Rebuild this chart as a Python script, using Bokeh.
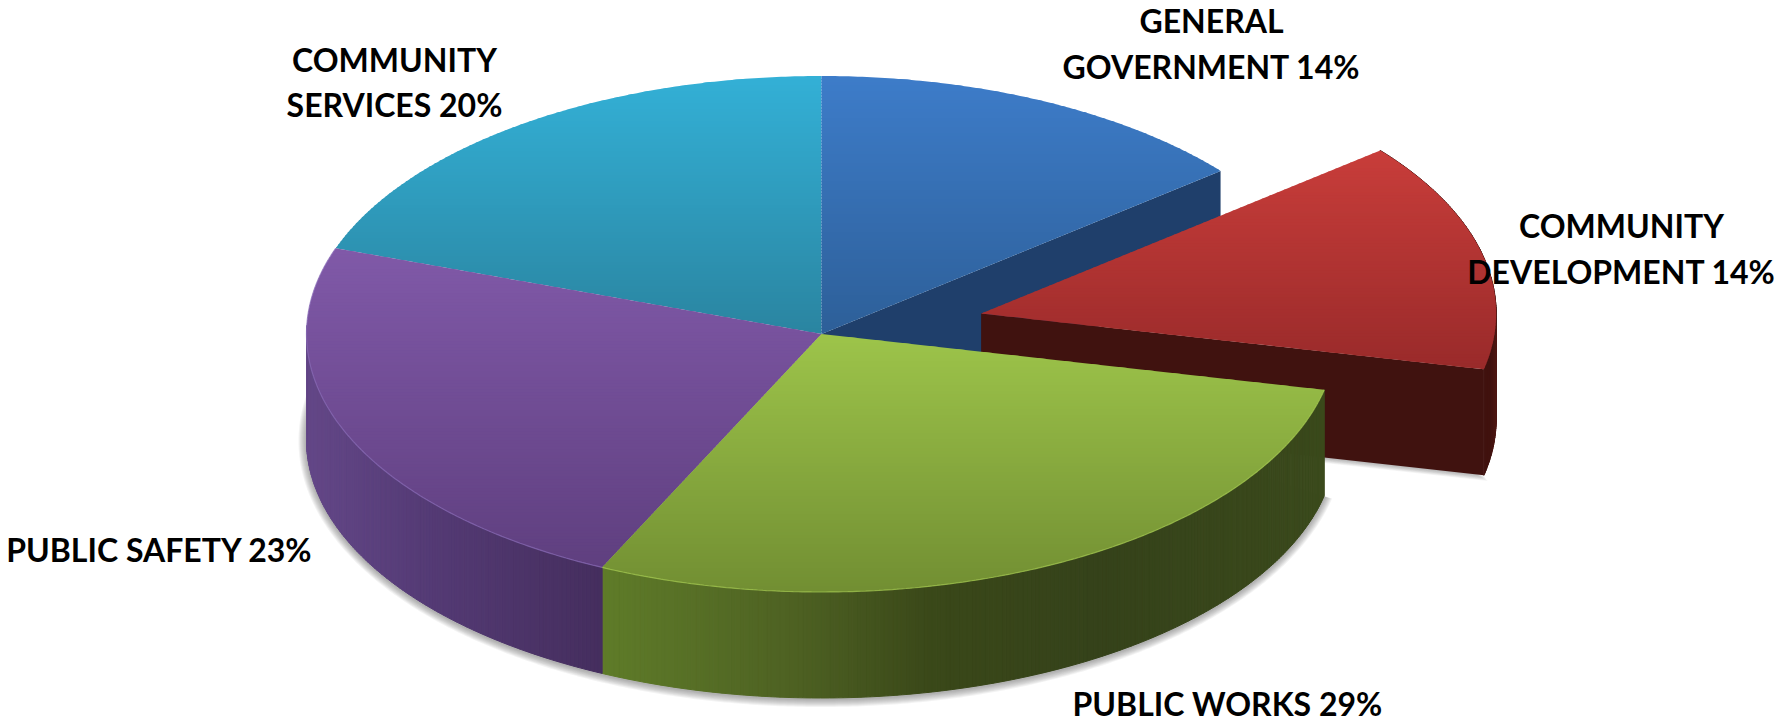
import math

from bokeh.core.properties import value
from bokeh.embed import file_html
from bokeh.models import Range1d
from bokeh.plotting import figure
from bokeh.resources import INLINE

# Budget shares, clockwise from twelve o'clock
categories = ["GENERAL GOVERNMENT", "COMMUNITY DEVELOPMENT", "PUBLIC WORKS", "PUBLIC SAFETY", "COMMUNITY SERVICES"]
shares = [14, 14, 29, 23, 20]
exploded = [False, True, False, False, False]

# Label text, one list of lines per slice; the share is appended to the last line
label_lines = [["GENERAL", "GOVERNMENT"], ["COMMUNITY", "DEVELOPMENT"], ["PUBLIC WORKS"], ["PUBLIC SAFETY"], ["COMMUNITY", "SERVICES"]]
label_x = [1211, 1621, 1227, 159, 394]
label_y = [[20, 66], [225, 271], [703], [549], [59, 104]]

# Top-face gradients (upper colour, lower colour)
top_colors = [("#3d7cc9", "#2d5f98"), ("#c83d3a", "#992a2a"), ("#9dc44a", "#718e32"), ("#8059a8", "#5f3f7f"), ("#33b0d6", "#2a84a0")]
# Rim gradients across x, as (x, colour) stops
rim_stops = {
    1: [(983, "#40120f"), (1489, "#40120f"), (1500, "#5c1d1a")],
    2: [(600, "#5f7c29"), (800, "#4d6022"), (930, "#3a4819"), (1100, "#35421a"), (1327, "#3b4a1c")],
    3: [(304, "#644888"), (420, "#553b76"), (600, "#452e5e")],
}
cut_colors = {0: "#1f3f6b", 1: "#40120f"}
rim_highlight = {2: "#a6cc52", 3: "#8a6cb8"}

# Projection of the disc; PERSPECTIVE_DEG is the foreshortening near the sides of the ellipse
CX, CY, RX, RY = 821, 333.5, 515, 258
DEPTH = 106
EXPLODE = 0.32
PERSPECTIVE_DEG = 1.9
BAND = 3


def hex_rgb(c):
    return tuple(int(c[i:i + 2], 16) for i in (1, 3, 5))


def mix(a, b, t):
    ra, rb = hex_rgb(a), hex_rgb(b)
    return "#%02x%02x%02x" % tuple(round(u + (v - u) * t) for u, v in zip(ra, rb))


def color_at(stops, x):
    if x <= stops[0][0]:
        return stops[0][1]
    for (x0, c0), (x1, c1) in zip(stops, stops[1:]):
        if x <= x1:
            return mix(c0, c1, (x - x0) / (x1 - x0))
    return stops[-1][1]


def rim_point(cx, cy, deg, grow=0.0):
    a = math.radians(deg)
    a += math.radians(PERSPECTIVE_DEG * math.sin(a) ** 6)
    return cx + (RX + grow) * math.sin(a), cy - (RY + grow) * math.cos(a)


def clip_band(poly, lo, hi):
    def clip(points, inside, cross):
        out = []
        for i, p in enumerate(points):
            q = points[(i + 1) % len(points)]
            if inside(p):
                out.append(p)
            if inside(p) != inside(q):
                t = (cross - p[1]) / (q[1] - p[1])
                out.append((p[0] + (q[0] - p[0]) * t, cross))
        return out

    poly = clip(poly, lambda p: p[1] >= lo, lo)
    return clip(poly, lambda p: p[1] <= hi, hi) if poly else poly


# Slice angles and centres follow from the shares
angles = []
start = 0.0
for s in shares:
    angles.append((start, start + s * 3.6))
    start += s * 3.6

centers = []
for (a0, a1), ex in zip(angles, exploded):
    if ex:
        mid = math.radians((a0 + a1) / 2)
        centers.append((CX + EXPLODE * RX * math.sin(mid), CY - EXPLODE * RY * math.cos(mid)))
    else:
        centers.append((CX, CY))


def arc(i, grow=0.0, dy=0.0, lo=None, hi=None):
    a0, a1 = angles[i]
    a0 = a0 if lo is None else max(a0, lo)
    a1 = a1 if hi is None else min(a1, hi)
    steps = max(2, int((a1 - a0) * 2))
    cx, cy = centers[i]
    return [rim_point(cx, cy + dy, a0 + (a1 - a0) * k / steps, grow) for k in range(steps + 1)]


p = figure(width=1778, height=723, output_backend="svg", toolbar_location=None,
           x_range=Range1d(0, 1778), y_range=Range1d(723, 0),
           min_border=0, outline_line_color=None, background_fill_color="white")
p.axis.visible = False
p.grid.visible = False


def draw_polys(polys, colors, alpha=1.0, outline=False):
    p.patches([[q[0] for q in poly] for poly in polys], [[q[1] for q in poly] for poly in polys],
              fill_color=colors, fill_alpha=alpha,
              line_color=colors if outline else None, line_width=1 if outline else 0, line_alpha=alpha)


def draw_top(i):
    cx, cy = centers[i]
    poly = [(cx, cy)] + arc(i)
    ys = [q[1] for q in poly]
    y0, y1 = min(ys), max(ys)
    polys, colors = [], []
    y = y0
    while y < y1:
        band = clip_band(poly, y, y + BAND + 1)
        if len(band) >= 3:
            polys.append(band)
            colors.append(mix(top_colors[i][0], top_colors[i][1], (y - y0) / (y1 - y0)))
        y += BAND
    draw_polys(polys, colors)


def draw_rim(i, hi=None):
    pts = arc(i, hi=hi)
    polys, colors = [], []
    for a, b in zip(pts, pts[1:]):
        polys.append([a, b, (b[0], b[1] + DEPTH), (a[0], a[1] + DEPTH)])
        colors.append(color_at(rim_stops[i], (a[0] + b[0]) / 2))
    draw_polys(polys, colors, outline=True)


def draw_cut(i, deg):
    cx, cy = centers[i]
    ex, ey = rim_point(cx, cy, deg)
    draw_polys([[(cx, cy), (ex, ey), (ex, ey + DEPTH), (cx, cy + DEPTH)]], [cut_colors[i]])


# Soft ground shadow, widest layer first
for grow in range(8, 0, -1):
    pts = arc(2, grow, DEPTH + 1) + arc(3, grow, DEPTH + 1, hi=286)
    draw_polys([pts + [(CX, CY)]], ["#555555"], alpha=0.07)
    rx0, ry0 = rim_point(*centers[1], angles[1][1])
    red_base = [(rx0 + grow * 0.5, ry0 + DEPTH + grow * 0.7), (centers[1][0], centers[1][1] + DEPTH + grow * 0.7), (rx0 - 200, ry0)]
    draw_polys([red_base], ["#555555"], alpha=0.06)

# Back to front: blue cut face and back slices, then the exploded slice, then the front rims and tops
draw_cut(0, angles[0][1])
draw_top(4)
draw_top(0)

draw_rim(1)
draw_cut(1, angles[1][1])
draw_top(1)

draw_rim(2)
draw_rim(3, hi=270)
draw_top(3)
draw_top(2)

for i, c in rim_highlight.items():
    pts = arc(i)
    p.line([q[0] for q in pts], [q[1] for q in pts], line_color=c, line_width=1.2, line_alpha=0.7)

# Labels
xs, ys, texts = [], [], []
for lines, x, y_list, share in zip(label_lines, label_x, label_y, shares):
    for k, (line, y) in enumerate(zip(lines, y_list)):
        xs.append(x)
        ys.append(y)
        texts.append(f"{line} {share}%" if k == len(lines) - 1 else line)
p.text(xs, ys, text=texts, text_font=value("Lato"), text_font_style="bold", text_font_size="32px",
       text_align="center", text_baseline="alphabetic", text_color="#000000")

open("out.html", "w").write(file_html(p, INLINE))
